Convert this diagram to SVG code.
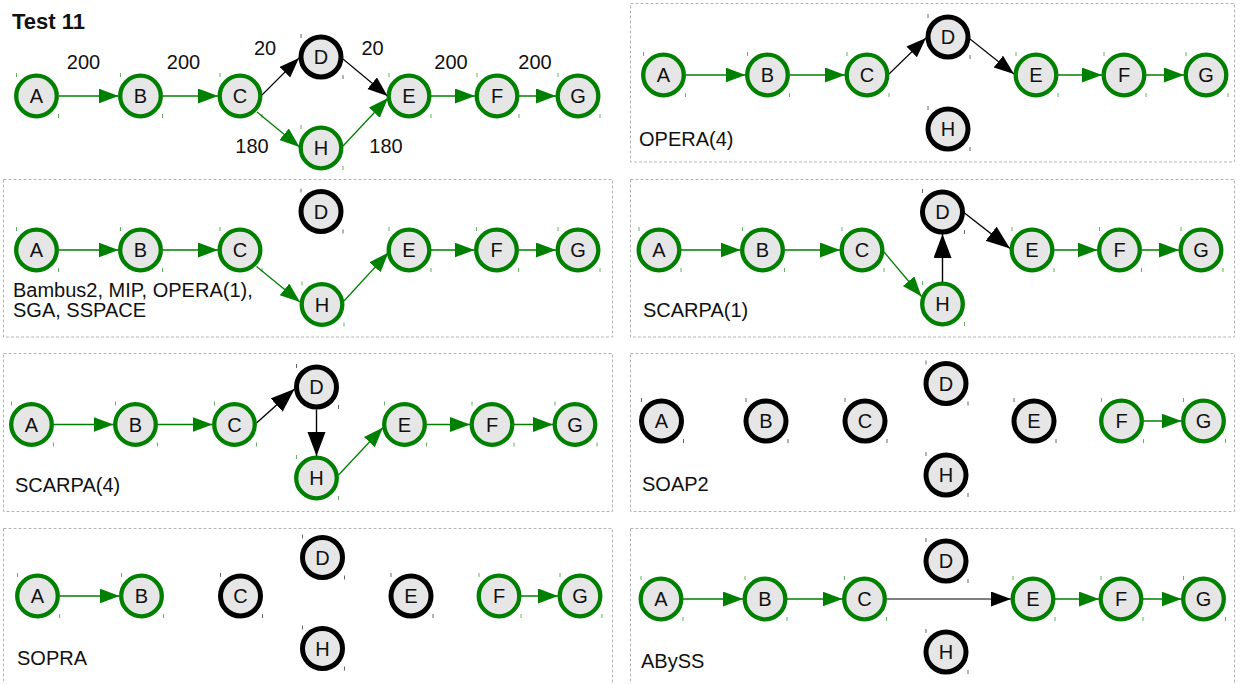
<svg xmlns="http://www.w3.org/2000/svg" width="1241" height="684" viewBox="0 0 1241 684">
<style>
  .bg { fill: #ffffff; }
  .panel { fill: none; stroke: #b4b4b4; stroke-width: 1; stroke-dasharray: 3 2; }
  .g circle { fill: #e6e6e6; stroke: #008000; stroke-width: 4.3; }
  .k circle { fill: #e6e6e6; stroke: #000000; stroke-width: 5; }
  .g .t { stroke: #008000; stroke-width: 1; opacity: 0.6; fill: none; }
  .k .t { stroke: #000000; stroke-width: 1; opacity: 0.6; fill: none; }
  text { font-family: "Liberation Sans", Arial, sans-serif; fill: #111111; }
  .g text, .k text { font-size: 20px; text-anchor: middle; }
  .lbl { font-size: 20px; }
  .el { font-size: 20px; text-anchor: middle; }
  .title { font-size: 22px; font-weight: bold; }
  .eg { stroke: #008000; stroke-width: 1.3; fill: none; marker-end: url(#ag); }
  .ek { stroke: #000000; stroke-width: 1.1; fill: none; marker-end: url(#ak); }
  .ekL { stroke: #000000; stroke-width: 1.4; fill: none; marker-end: url(#akL); }
</style>
<defs>
  <marker id="ag" markerUnits="userSpaceOnUse" markerWidth="21" markerHeight="16" refX="20" refY="7.5" orient="auto">
    <path d="M0,0 L20,7.5 L0,15 z" fill="#008000"/>
  </marker>
  <marker id="ak" markerUnits="userSpaceOnUse" markerWidth="21" markerHeight="16" refX="20" refY="7.5" orient="auto">
    <path d="M0,0 L20,7.5 L0,15 z" fill="#000000"/>
  </marker>
  <marker id="akL" markerUnits="userSpaceOnUse" markerWidth="25" markerHeight="19" refX="24" refY="9" orient="auto">
    <path d="M0,0 L24,9 L0,18 z" fill="#000000"/>
  </marker>
</defs>
<rect class="bg" x="0" y="0" width="1241" height="684"/>

<g id="panels">
  <rect class="panel" x="630.5" y="3.5" width="604" height="158.5"/>
  <rect class="panel" x="3.5" y="179.5" width="609" height="157.5"/>
  <rect class="panel" x="630.5" y="179.5" width="604" height="157.5"/>
  <rect class="panel" x="3.5" y="353.5" width="609" height="158"/>
  <rect class="panel" x="630.5" y="353.5" width="604" height="158"/>
  <rect class="panel" x="3.5" y="528.5" width="609" height="200"/>
  <rect class="panel" x="630.5" y="528.5" width="604" height="200"/>
</g>

<g id="labels">
  <text class="title" x="12" y="29">Test 11</text>
  <text class="el" x="83.5" y="69">200</text>
  <text class="el" x="183.5" y="69">200</text>
  <text class="el" x="265" y="55">20</text>
  <text class="el" x="372.5" y="55">20</text>
  <text class="el" x="252" y="152.5">180</text>
  <text class="el" x="386" y="152.5">180</text>
  <text class="el" x="451" y="69">200</text>
  <text class="el" x="535" y="69">200</text>
  <text class="lbl" x="639" y="146">OPERA(4)</text>
  <text class="lbl" x="13" y="297">Bambus2, MIP, OPERA(1),</text>
  <text class="lbl" x="13" y="317">SGA, SSPACE</text>
  <text class="lbl" x="643" y="317">SCARPA(1)</text>
  <text class="lbl" x="15" y="492">SCARPA(4)</text>
  <text class="lbl" x="642" y="491">SOAP2</text>
  <text class="lbl" x="17" y="665">SOPRA</text>
  <text class="lbl" x="641" y="668">ABySS</text>
</g>

<g id="connectors">
  <!-- panel 1 -->
  <line class="eg" x1="59" y1="96" x2="118.5" y2="96"/>
  <line class="eg" x1="162.5" y1="96" x2="218" y2="96"/>
  <line class="ek" x1="262" y1="95" x2="299" y2="58"/>
  <line class="ek" x1="343" y1="59" x2="387.5" y2="96"/>
  <line class="eg" x1="257" y1="112" x2="299.5" y2="147"/>
  <line class="eg" x1="343" y1="146" x2="388" y2="98"/>
  <line class="eg" x1="431" y1="96" x2="475" y2="96"/>
  <line class="eg" x1="519" y1="96" x2="556" y2="96"/>
  <!-- OPERA(4) -->
  <line class="eg" x1="685.5" y1="75" x2="745.5" y2="75"/>
  <line class="eg" x1="789.5" y1="75" x2="845" y2="75"/>
  <line class="ek" x1="889" y1="74" x2="926" y2="38"/>
  <line class="ek" x1="970" y1="39" x2="1014" y2="74"/>
  <line class="eg" x1="1058" y1="75" x2="1102" y2="75"/>
  <line class="eg" x1="1146" y1="75" x2="1184" y2="75"/>
  <!-- Bambus2 ... -->
  <line class="eg" x1="59" y1="250" x2="118.5" y2="250"/>
  <line class="eg" x1="162.5" y1="250" x2="218" y2="250"/>
  <line class="eg" x1="256.5" y1="266.5" x2="300" y2="302"/>
  <line class="eg" x1="344" y1="301" x2="388.5" y2="252.5"/>
  <line class="eg" x1="431" y1="250" x2="474.5" y2="250"/>
  <line class="eg" x1="518.5" y1="250" x2="556" y2="250"/>
  <!-- SCARPA(1) -->
  <line class="eg" x1="681" y1="250" x2="740.5" y2="250"/>
  <line class="eg" x1="784.5" y1="250" x2="840" y2="250"/>
  <line class="eg" x1="884" y1="252" x2="921.5" y2="296.5"/>
  <line class="ekL" x1="942.5" y1="282" x2="942.5" y2="234"/>
  <line class="ekL" x1="964.5" y1="213" x2="1010" y2="248.5"/>
  <line class="eg" x1="1054" y1="250" x2="1097.5" y2="250"/>
  <line class="eg" x1="1141.5" y1="250" x2="1179" y2="250"/>
  <!-- SCARPA(4) -->
  <line class="eg" x1="53.5" y1="424.5" x2="113.5" y2="424.5"/>
  <line class="eg" x1="157.5" y1="424.5" x2="212.5" y2="424.5"/>
  <line class="ekL" x1="256.5" y1="423" x2="294.5" y2="389"/>
  <line class="ekL" x1="316.5" y1="409.5" x2="316.5" y2="456"/>
  <line class="eg" x1="338.5" y1="475" x2="383" y2="427.5"/>
  <line class="eg" x1="426.5" y1="424.5" x2="470" y2="424.5"/>
  <line class="eg" x1="514" y1="424.5" x2="553" y2="424.5"/>
  <!-- SOAP2 -->
  <line class="eg" x1="1143.5" y1="421" x2="1181.5" y2="421"/>
  <!-- SOPRA -->
  <line class="eg" x1="59.5" y1="596" x2="119.5" y2="596"/>
  <line class="eg" x1="521" y1="596" x2="558" y2="596"/>
  <!-- ABySS -->
  <line class="eg" x1="683" y1="599" x2="743" y2="599"/>
  <line class="eg" x1="787" y1="599" x2="842.5" y2="599"/>
  <line class="ek" x1="886.5" y1="599" x2="1011" y2="599"/>
  <line class="eg" x1="1055" y1="599" x2="1099" y2="599"/>
  <line class="eg" x1="1143" y1="599" x2="1181.5" y2="599"/>
</g>

<!-- Panel 1: Test 11 -->
<g id="p1-A" class="g"><circle cx="36.5" cy="96" r="20.3"/><text x="36.5" y="103">A</text><path class="t" d="M16.5 73v4M58.5 114v4"/></g>
<g id="p1-B" class="g"><circle cx="140.5" cy="96" r="20.3"/><text x="140.5" y="103">B</text><path class="t" d="M120.5 73v4M162.5 114v4"/></g>
<g id="p1-C" class="g"><circle cx="240" cy="96" r="20.3"/><text x="240" y="103">C</text><path class="t" d="M220 73v4M262 114v4"/></g>
<g id="p1-D" class="k"><circle cx="321" cy="57" r="20"/><text x="321" y="64">D</text><path class="t" d="M301 34v4M343 75v4"/></g>
<g id="p1-H" class="g"><circle cx="321" cy="148" r="20.3"/><text x="321" y="155">H</text><path class="t" d="M301 125v4M343 166v4"/></g>
<g id="p1-E" class="g"><circle cx="409" cy="96" r="20.3"/><text x="409" y="103">E</text><path class="t" d="M389 73v4M431 114v4"/></g>
<g id="p1-F" class="g"><circle cx="497" cy="96" r="20.3"/><text x="497" y="103">F</text><path class="t" d="M477 73v4M519 114v4"/></g>
<g id="p1-G" class="g"><circle cx="578" cy="96" r="20.3"/><text x="578" y="103">G</text><path class="t" d="M558 73v4M600 114v4"/></g>

<!-- Panel 2: OPERA(4) -->
<g id="p2-A" class="g"><circle cx="663.5" cy="75" r="20.3"/><text x="663.5" y="82">A</text><path class="t" d="M643.5 52v4M685.5 93v4"/></g>
<g id="p2-B" class="g"><circle cx="767.5" cy="75" r="20.3"/><text x="767.5" y="82">B</text><path class="t" d="M747.5 52v4M789.5 93v4"/></g>
<g id="p2-C" class="g"><circle cx="867" cy="75" r="20.3"/><text x="867" y="82">C</text><path class="t" d="M847 52v4M889 93v4"/></g>
<g id="p2-D" class="k"><circle cx="948" cy="37" r="20"/><text x="948" y="44">D</text><path class="t" d="M928 14v4M970 55v4"/></g>
<g id="p2-H" class="k"><circle cx="948" cy="129" r="20"/><text x="948" y="136">H</text><path class="t" d="M928 106v4M970 147v4"/></g>
<g id="p2-E" class="g"><circle cx="1036" cy="75" r="20.3"/><text x="1036" y="82">E</text><path class="t" d="M1016 52v4M1058 93v4"/></g>
<g id="p2-F" class="g"><circle cx="1124" cy="75" r="20.3"/><text x="1124" y="82">F</text><path class="t" d="M1104 52v4M1146 93v4"/></g>
<g id="p2-G" class="g"><circle cx="1206" cy="75" r="20.3"/><text x="1206" y="82">G</text><path class="t" d="M1186 52v4M1228 93v4"/></g>

<!-- Panel 3: Bambus2, MIP, OPERA(1), SGA, SSPACE -->
<g id="p3-A" class="g"><circle cx="36.5" cy="250" r="20.3"/><text x="36.5" y="257">A</text><path class="t" d="M16.5 227v4M58.5 268v4"/></g>
<g id="p3-B" class="g"><circle cx="140.5" cy="250" r="20.3"/><text x="140.5" y="257">B</text><path class="t" d="M120.5 227v4M162.5 268v4"/></g>
<g id="p3-C" class="g"><circle cx="240" cy="250" r="20.3"/><text x="240" y="257">C</text><path class="t" d="M220 227v4M262 268v4"/></g>
<g id="p3-D" class="k"><circle cx="321" cy="211.5" r="20"/><text x="321" y="218.5">D</text><path class="t" d="M301 188.5v4M343 229.5v4"/></g>
<g id="p3-H" class="g"><circle cx="322" cy="304.5" r="20.3"/><text x="322" y="311.5">H</text><path class="t" d="M302 281.5v4M344 322.5v4"/></g>
<g id="p3-E" class="g"><circle cx="409" cy="250" r="20.3"/><text x="409" y="257">E</text><path class="t" d="M389 227v4M431 268v4"/></g>
<g id="p3-F" class="g"><circle cx="496.5" cy="250" r="20.3"/><text x="496.5" y="257">F</text><path class="t" d="M476.5 227v4M518.5 268v4"/></g>
<g id="p3-G" class="g"><circle cx="578" cy="250" r="20.3"/><text x="578" y="257">G</text><path class="t" d="M558 227v4M600 268v4"/></g>

<!-- Panel 4: SCARPA(1) -->
<g id="p4-A" class="g"><circle cx="659" cy="250" r="20.3"/><text x="659" y="257">A</text><path class="t" d="M639 227v4M681 268v4"/></g>
<g id="p4-B" class="g"><circle cx="762.5" cy="250" r="20.3"/><text x="762.5" y="257">B</text><path class="t" d="M742.5 227v4M784.5 268v4"/></g>
<g id="p4-C" class="g"><circle cx="862" cy="250" r="20.3"/><text x="862" y="257">C</text><path class="t" d="M842 227v4M884 268v4"/></g>
<g id="p4-D" class="k"><circle cx="942.5" cy="212" r="20"/><text x="942.5" y="219">D</text><path class="t" d="M922.5 189v4M964.5 230v4"/></g>
<g id="p4-H" class="g"><circle cx="942.5" cy="304" r="20.3"/><text x="942.5" y="311">H</text><path class="t" d="M922.5 281v4M964.5 322v4"/></g>
<g id="p4-E" class="g"><circle cx="1032" cy="250" r="20.3"/><text x="1032" y="257">E</text><path class="t" d="M1012 227v4M1054 268v4"/></g>
<g id="p4-F" class="g"><circle cx="1119.5" cy="250" r="20.3"/><text x="1119.5" y="257">F</text><path class="t" d="M1099.5 227v4M1141.5 268v4"/></g>
<g id="p4-G" class="g"><circle cx="1201" cy="250" r="20.3"/><text x="1201" y="257">G</text><path class="t" d="M1181 227v4M1223 268v4"/></g>

<!-- Panel 5: SCARPA(4) -->
<g id="p5-A" class="g"><circle cx="31.5" cy="424.5" r="20.3"/><text x="31.5" y="431.5">A</text><path class="t" d="M11.5 401.5v4M53.5 442.5v4"/></g>
<g id="p5-B" class="g"><circle cx="135.5" cy="424.5" r="20.3"/><text x="135.5" y="431.5">B</text><path class="t" d="M115.5 401.5v4M157.5 442.5v4"/></g>
<g id="p5-C" class="g"><circle cx="234.5" cy="424.5" r="20.3"/><text x="234.5" y="431.5">C</text><path class="t" d="M214.5 401.5v4M256.5 442.5v4"/></g>
<g id="p5-D" class="k"><circle cx="316.5" cy="387" r="20"/><text x="316.5" y="394">D</text><path class="t" d="M296.5 364v4M338.5 405v4"/></g>
<g id="p5-H" class="g"><circle cx="316.5" cy="478" r="20.3"/><text x="316.5" y="485">H</text><path class="t" d="M296.5 455v4M338.5 496v4"/></g>
<g id="p5-E" class="g"><circle cx="404.5" cy="424.5" r="20.3"/><text x="404.5" y="431.5">E</text><path class="t" d="M384.5 401.5v4M426.5 442.5v4"/></g>
<g id="p5-F" class="g"><circle cx="492" cy="424.5" r="20.3"/><text x="492" y="431.5">F</text><path class="t" d="M472 401.5v4M514 442.5v4"/></g>
<g id="p5-G" class="g"><circle cx="575" cy="424.5" r="20.3"/><text x="575" y="431.5">G</text><path class="t" d="M555 401.5v4M597 442.5v4"/></g>

<!-- Panel 6: SOAP2 -->
<g id="p6-A" class="k"><circle cx="661.5" cy="421" r="20"/><text x="661.5" y="428">A</text><path class="t" d="M641.5 398v4M683.5 439v4"/></g>
<g id="p6-B" class="k"><circle cx="766" cy="421" r="20"/><text x="766" y="428">B</text><path class="t" d="M746 398v4M788 439v4"/></g>
<g id="p6-C" class="k"><circle cx="865" cy="421" r="20"/><text x="865" y="428">C</text><path class="t" d="M845 398v4M887 439v4"/></g>
<g id="p6-D" class="k"><circle cx="946" cy="383.5" r="20"/><text x="946" y="390.5">D</text><path class="t" d="M926 360.5v4M968 401.5v4"/></g>
<g id="p6-H" class="k"><circle cx="946" cy="475" r="20"/><text x="946" y="482">H</text><path class="t" d="M926 452v4M968 493v4"/></g>
<g id="p6-E" class="k"><circle cx="1034" cy="421" r="20"/><text x="1034" y="428">E</text><path class="t" d="M1014 398v4M1056 439v4"/></g>
<g id="p6-F" class="g"><circle cx="1121.5" cy="421" r="20.3"/><text x="1121.5" y="428">F</text><path class="t" d="M1101.5 398v4M1143.5 439v4"/></g>
<g id="p6-G" class="g"><circle cx="1203.5" cy="421" r="20.3"/><text x="1203.5" y="428">G</text><path class="t" d="M1183.5 398v4M1225.5 439v4"/></g>

<!-- Panel 7: SOPRA -->
<g id="p7-A" class="g"><circle cx="37.5" cy="596" r="20.3"/><text x="37.5" y="603">A</text><path class="t" d="M17.5 573v4M59.5 614v4"/></g>
<g id="p7-B" class="g"><circle cx="141.5" cy="596" r="20.3"/><text x="141.5" y="603">B</text><path class="t" d="M121.5 573v4M163.5 614v4"/></g>
<g id="p7-C" class="k"><circle cx="240.5" cy="596" r="20"/><text x="240.5" y="603">C</text><path class="t" d="M220.5 573v4M262.5 614v4"/></g>
<g id="p7-D" class="k"><circle cx="322.5" cy="557.5" r="20"/><text x="322.5" y="564.5">D</text><path class="t" d="M302.5 534.5v4M344.5 575.5v4"/></g>
<g id="p7-H" class="k"><circle cx="322.5" cy="648.5" r="20"/><text x="322.5" y="655.5">H</text><path class="t" d="M302.5 625.5v4M344.5 666.5v4"/></g>
<g id="p7-E" class="k"><circle cx="411" cy="596" r="20"/><text x="411" y="603">E</text><path class="t" d="M391 573v4M433 614v4"/></g>
<g id="p7-F" class="g"><circle cx="499" cy="596" r="20.3"/><text x="499" y="603">F</text><path class="t" d="M479 573v4M521 614v4"/></g>
<g id="p7-G" class="g"><circle cx="580" cy="596" r="20.3"/><text x="580" y="603">G</text><path class="t" d="M560 573v4M602 614v4"/></g>

<!-- Panel 8: ABySS -->
<g id="p8-A" class="g"><circle cx="661" cy="599" r="20.3"/><text x="661" y="606">A</text><path class="t" d="M641 576v4M683 617v4"/></g>
<g id="p8-B" class="g"><circle cx="765" cy="599" r="20.3"/><text x="765" y="606">B</text><path class="t" d="M745 576v4M787 617v4"/></g>
<g id="p8-C" class="g"><circle cx="864.5" cy="599" r="20.3"/><text x="864.5" y="606">C</text><path class="t" d="M844.5 576v4M886.5 617v4"/></g>
<g id="p8-D" class="k"><circle cx="946" cy="561" r="20"/><text x="946" y="568">D</text><path class="t" d="M926 538v4M968 579v4"/></g>
<g id="p8-H" class="k"><circle cx="946" cy="652" r="20"/><text x="946" y="659">H</text><path class="t" d="M926 629v4M968 670v4"/></g>
<g id="p8-E" class="g"><circle cx="1033" cy="599" r="20.3"/><text x="1033" y="606">E</text><path class="t" d="M1013 576v4M1055 617v4"/></g>
<g id="p8-F" class="g"><circle cx="1121" cy="599" r="20.3"/><text x="1121" y="606">F</text><path class="t" d="M1101 576v4M1143 617v4"/></g>
<g id="p8-G" class="g"><circle cx="1203.5" cy="599" r="20.3"/><text x="1203.5" y="606">G</text><path class="t" d="M1183.5 576v4M1225.5 617v4"/></g>
</svg>
